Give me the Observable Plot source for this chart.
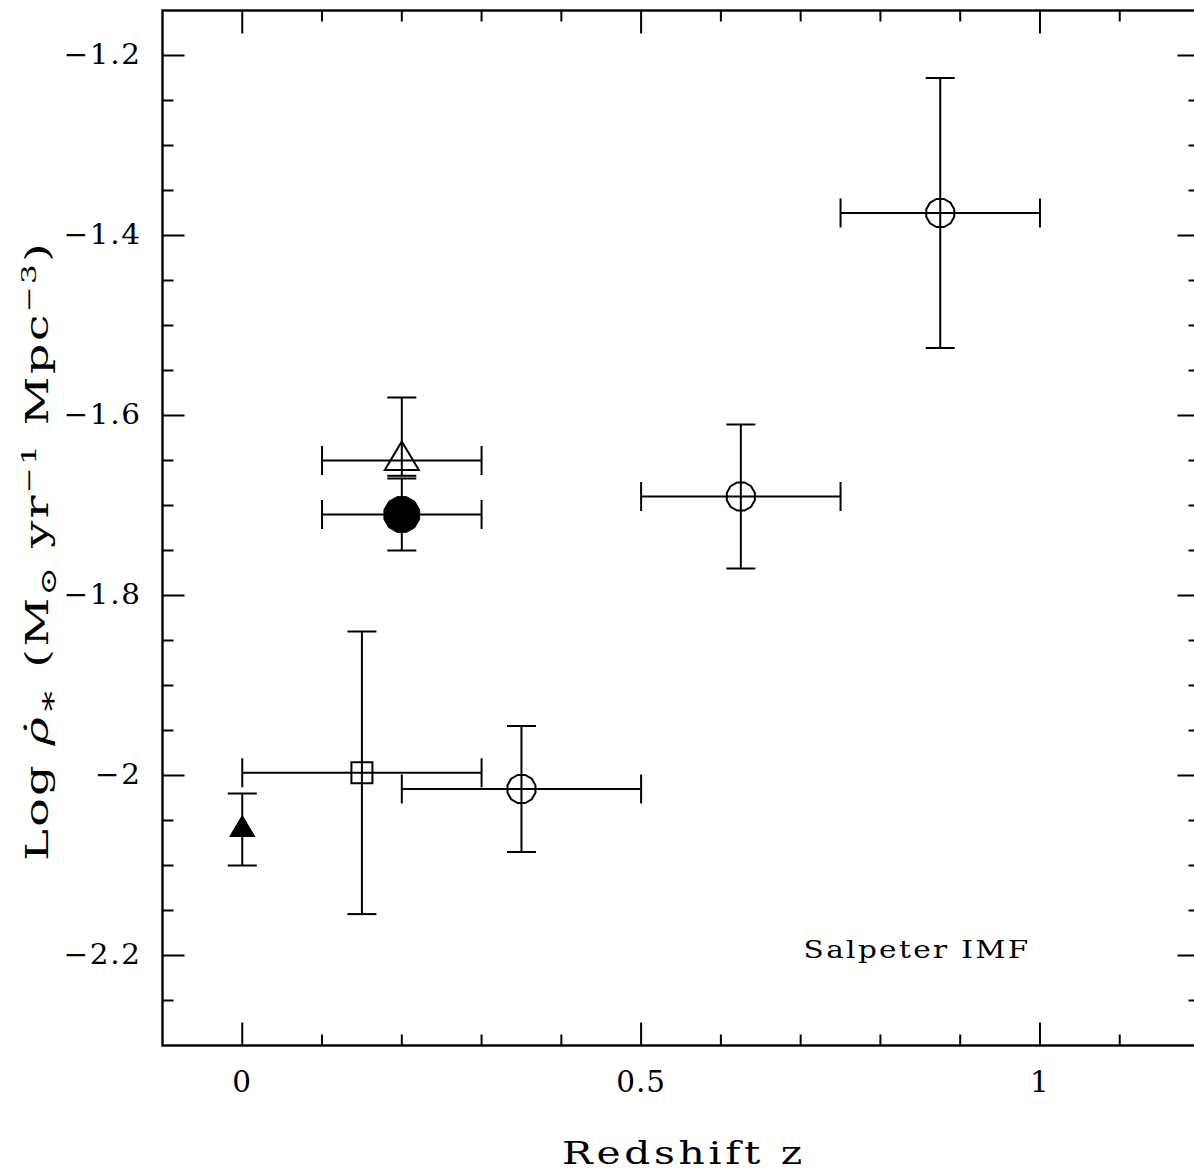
<!DOCTYPE html>
<html>
<head>
<meta charset="utf-8">
<script src="https://cdn.jsdelivr.net/npm/d3@7"></script>
<script src="https://cdn.jsdelivr.net/npm/@observablehq/plot@0.6"></script>
<style>
html, body { margin: 0; padding: 0; overflow: hidden; background: #fff; }
</style>
</head>
<body>
<div id="chart"></div>
<script>
// ---------- data ----------
const redshift    = [0,     0.15,   0.2,    0.2,   0.35,   0.625, 0.875];
const logRho      = [-2.06, -1.997, -1.65,  -1.71, -2.015, -1.69, -1.375];
const redshiftLo  = [null,  0,      0.1,    0.1,   0.2,    0.5,   0.75];
const redshiftHi  = [null,  0.3,    0.3,    0.3,   0.5,    0.75,  1.0];
const logRhoLo    = [-2.10, -2.154, -1.667, -1.75, -2.085, -1.77, -1.525];
const logRhoHi    = [-2.02, -1.84,  -1.58,  -1.67, -1.945, -1.61, -1.225];
const markerType  = ["filledTriangle", "openSquare", "openTriangle", "filledCircle", "openCircle", "openCircle", "openCircle"];

const xMajorTicks = [0, 0.5, 1];
const xMinorTicks = [0.1, 0.2, 0.3, 0.4, 0.6, 0.7, 0.8, 0.9, 1.1];
const yMajorTicks = [-2.2, -2.0, -1.8, -1.6, -1.4, -1.2];
const yMinorTicks = [-2.25, -2.15, -2.1, -2.05, -1.95, -1.9, -1.85, -1.75, -1.7, -1.65, -1.55, -1.5, -1.45, -1.35, -1.3, -1.25];
const xTickLabels = ["0", "0.5", "1"];
const yTickLabels = ["\u22122.2", "\u22122", "\u22121.8", "\u22121.6", "\u22121.4", "\u22121.2"];
const xTitle = "Redshift z";
const yTitle = "Log \u03C1\u0307\u2217 (M\u2299 yr\u22121 Mpc\u22123)";
const note = "Salpeter IMF";

// ---------- tables ----------
const pts = redshift.map((z, i) => ({
  z, v: logRho[i], zLo: redshiftLo[i], zHi: redshiftHi[i],
  vLo: logRhoLo[i], vHi: logRhoHi[i], m: markerType[i]
}));
const withX = pts.filter(d => d.zLo != null);
const xCaps = withX.flatMap(d => [{z: d.zLo, v: d.v}, {z: d.zHi, v: d.v}]);
const yCaps = pts.flatMap(d => [{z: d.z, v: d.vLo}, {z: d.z, v: d.vHi}]);
const ofType = t => pts.filter(d => d.m === t);

// ---------- custom symbols ----------
const sym = fn => ({draw(ctx, size) { fn(ctx, Math.sqrt(size / Math.PI)); }});
const polygon = sym((c, r) => {
  const n = 12;
  for (let k = 0; k < n; k++) {
    const a = (k + 0.5) * 2 * Math.PI / n;
    const px = r * Math.cos(a), py = r * Math.sin(a);
    k ? c.lineTo(px, py) : c.moveTo(px, py);
  }
  c.closePath();
});
const triangleUp = sym((c, r) => {
  const h = r * 1.68;
  c.moveTo(0, -2 * h / 3); c.lineTo(r, h / 3); c.lineTo(-r, h / 3); c.closePath();
});
const squareSym = sym((c, r) => { c.rect(-r, -r, 2 * r, 2 * r); });
const capH = sym((c, r) => { c.moveTo(-r, 0); c.lineTo(r, 0); });
const capV = sym((c, r) => { c.moveTo(0, -r); c.lineTo(0, r); });
const tickFromLeft = sym((c, r) => { c.moveTo(0, 0); c.lineTo(r, 0); });
const tickFromRight = sym((c, r) => { c.moveTo(0, 0); c.lineTo(-r, 0); });
const tickFromBottom = sym((c, r) => { c.moveTo(0, 0); c.lineTo(0, -r); });
const tickFromTop = sym((c, r) => { c.moveTo(0, 0); c.lineTo(0, r); });

const ink = {stroke: "black", strokeWidth: 2, fill: "none"};
const edgeTicks = (data, ch, anchor, symbol, r) =>
  Plot.dot(data, {[ch]: d => d, frameAnchor: anchor, symbol, r, ...ink});

const plot = Plot.plot({
  width: 1200,
  height: 1176,
  marginLeft: 162,
  marginRight: 1,
  marginTop: 10,
  marginBottom: 131,
  style: {fontFamily: "'DejaVu Serif', serif", fontSize: "28px", background: "white", maxWidth: "none", color: "black"},
  x: {domain: [-0.1, 1.2], label: null, axis: null},
  y: {domain: [-2.3, -1.15], label: null, axis: null},
  marks: [
    // inward ticks on all four sides
    edgeTicks(yMajorTicks, "y", "left", tickFromLeft, 22),
    edgeTicks(yMinorTicks, "y", "left", tickFromLeft, 11),
    edgeTicks(yMajorTicks, "y", "right", tickFromRight, 22),
    edgeTicks(yMinorTicks, "y", "right", tickFromRight, 11),
    edgeTicks(xMajorTicks, "x", "bottom", tickFromBottom, 23),
    edgeTicks(xMinorTicks, "x", "bottom", tickFromBottom, 11),
    edgeTicks(xMajorTicks, "x", "top", tickFromTop, 23),
    edgeTicks(xMinorTicks, "x", "top", tickFromTop, 11),
    Plot.axisY(yMajorTicks, {anchor: "left", tickSize: 0, tickPadding: 21, fontSize: 27.5,
      tickFormat: d => yTickLabels[yMajorTicks.indexOf(d)], label: null}),
    Plot.axisX(xMajorTicks, {anchor: "bottom", tickSize: 0, tickPadding: 26, fontSize: 29,
      tickFormat: d => xTickLabels[xMajorTicks.indexOf(d)], label: null}),
    // error bars
    Plot.ruleY(withX, {y: "v", x1: "zLo", x2: "zHi", stroke: "black", strokeWidth: 2}),
    Plot.ruleX(pts, {x: "z", y1: "vLo", y2: "vHi", stroke: "black", strokeWidth: 2}),
    Plot.dot(xCaps, {x: "z", y: "v", symbol: capV, r: 14.5, ...ink}),
    Plot.dot(yCaps, {x: "z", y: "v", symbol: capH, r: 14.5, ...ink}),
    // markers
    Plot.dot(ofType("openCircle"), {x: "z", y: "v", symbol: polygon, r: 14.5, ...ink}),
    Plot.dot(ofType("filledCircle"), {x: "z", y: "v", symbol: polygon, r: 18.5, fill: "black", stroke: "black", strokeWidth: 1}),
    Plot.dot(ofType("openSquare"), {x: "z", y: "v", symbol: squareSym, r: 10.5, ...ink}),
    Plot.dot(ofType("openTriangle"), {x: "z", y: "v", symbol: triangleUp, r: 17, ...ink}),
    Plot.dot(ofType("filledTriangle"), {x: "z", y: "v", symbol: triangleUp, r: 12.5, fill: "black", stroke: "black", strokeWidth: 1}),
    // texts
    Plot.text([note], {text: d => d, frameAnchor: "bottom-right", textAnchor: "end", lineAnchor: "middle",
      dx: -169, dy: -96, fontSize: 25}),
    Plot.text([xTitle], {text: d => d, frameAnchor: "bottom", textAnchor: "middle", lineAnchor: "middle",
      dx: 3, dy: 108, fontSize: 32.5}),
    Plot.text([yTitle], {text: d => d, frameAnchor: "left", textAnchor: "middle", lineAnchor: "middle",
      rotate: -90, dx: -125, dy: 23, fontSize: 32}),
    Plot.frame({stroke: "black", strokeWidth: 2.4})
  ]
});

document.getElementById("chart").appendChild(plot);

// ---------- typographic touch-ups ----------
const root = d3.select(plot);
const allTexts = () => root.selectAll("text");
const byContent = list => allTexts().filter(function () { return list.includes(this.textContent); });
function stretch(sel, scale) {
  sel.each(function () {
    let t = this.getAttribute("transform");
    if (t) {
      this.setAttribute("transform", t + ` scale(${scale},1)`);
    } else {
      const x = +(this.getAttribute("x") || 0), y = +(this.getAttribute("y") || 0);
      this.setAttribute("transform", `translate(${x},${y}) scale(${scale},1) translate(${-x},${-y})`);
    }
  });
}
function fitSel(sel, target, spacing) {
  if (spacing) sel.attr("letter-spacing", spacing);
  const n = sel.node();
  if (!n) return;
  const w = n.getBBox().width;
  if (w > 0) stretch(sel, target / w);
}
(function () {
  const ys = byContent(yTickLabels).attr("letter-spacing", 1.5);
  const ref = byContent(["\u22121.2"]).node();
  if (ref) stretch(ys, 78 / ref.getBBox().width);
  const xs = byContent(xTickLabels).attr("letter-spacing", 1);
  const refx = byContent(["0.5"]).node();
  if (refx) stretch(xs, 50 / refx.getBBox().width);
})();
fitSel(byContent([note]), 227, 2);
fitSel(byContent([xTitle]), 244, 3);

// y title with sub/superscripts
(function () {
  const t = byContent([yTitle]);
  if (t.empty()) return;
  const fs = 32;
  t.text(null);
  const add = (s, o = {}) => {
    const ts = t.append("tspan").text(s);
    if (o.dy) ts.attr("dy", o.dy);
    if (o.size) ts.attr("font-size", o.size);
    if (o.italic) ts.attr("font-style", "italic");
    return ts;
  };
  add("Log ");
  add("\u03C1\u0307", {italic: true});
  add("\u2217", {dy: fs * 0.28, size: fs * 0.85});
  add(" (M", {dy: -fs * 0.28});
  add("\u2299", {dy: fs * 0.25, size: fs * 0.7});
  add(" yr", {dy: -fs * 0.25});
  add("\u22121", {dy: -fs * 0.38, size: fs * 0.65});
  add(" Mpc", {dy: fs * 0.38});
  add("\u22123", {dy: -fs * 0.38, size: fs * 0.65});
  add(")", {dy: fs * 0.38});
  fitSel(t, 620, 1.5);
})();
</script>
</body>
</html>
